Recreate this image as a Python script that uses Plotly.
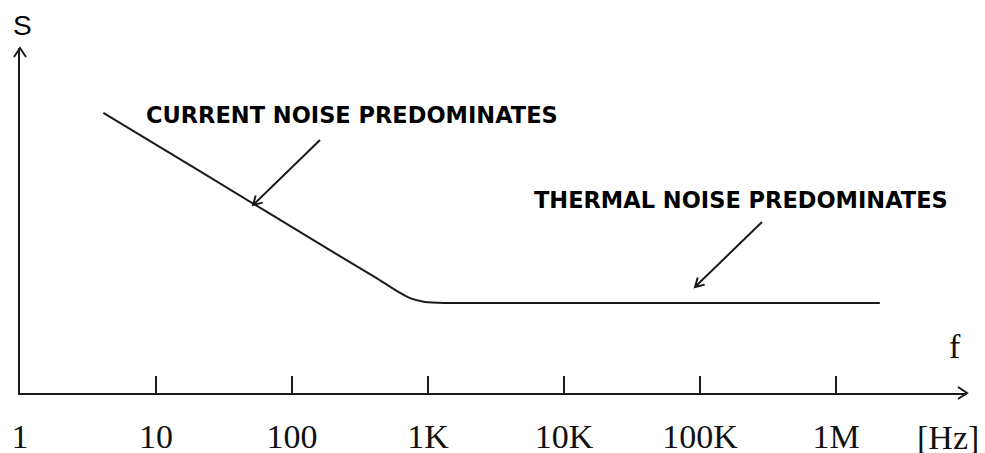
import plotly.graph_objects as go

# ---- data ----
freq_hz = [4.1, 21, 190, 407, 572, 738, 950, 1334, 2100000]
noise_s = [8.12, 6.43, 4.14, 3.36, 2.99, 2.75, 2.64, 2.61, 2.61]

tick_vals = [1, 10, 100, 1000, 10000, 100000, 1000000]
tick_text = ["1", "10", "100", "1K", "10K", "100K", "1M"]

label_current = "CURRENT NOISE PREDOMINATES"
label_thermal = "THERMAL NOISE PREDOMINATES"

# page body has an 8px margin: figure origin sits at page (8, 8)
OFF = 8
W, H = 985 - OFF, 453 - OFF
L, T = 20 - OFF, 48 - OFF
R = W - (967 - OFF)
B = H - (393 - OFF)
pw, ph = W - L - R, H - T - B
x_span = pw / 136.0
y_span = ph / 34.5

fig = go.Figure()
fig.add_trace(go.Scatter(
    x=freq_hz, y=noise_s, mode="lines",
    line=dict(color="#1a1a1a", width=2, shape="spline", smoothing=0.6),
    hoverinfo="skip", showlegend=False,
))

def px2dom(px, py):
    # px, py are page pixels from the reference
    return (px - OFF - L) / pw, (H - B - (py - OFF)) / ph

shapes = []
def pix_path(anchor_px, path):
    xa, ya = px2dom(*anchor_px)
    shapes.append(dict(type="path", xref="x domain", yref="y domain",
                       xsizemode="pixel", ysizemode="pixel",
                       xanchor=xa, yanchor=ya, path=path,
                       line=dict(color="#1a1a1a", width=2)))

# axis arrowheads (open chevrons)
pix_path((967, 393), "M -9,6 L 0,0 L -9,-6")
pix_path((20, 48), "M -6,-9 L 0,0 L 6,-9")
# annotation arrows
pix_path((253, 205), "M 67,65 L 0,0 M 2.7,9.6 L 0,0 L 9.7,2.4")
pix_path((695, 287), "M 67,65 L 0,0 M 2.7,9.6 L 0,0 L 9.7,2.4")

bold = dict(family="DejaVu Sans", size=22.5, color="#000000")
serif = dict(family="Liberation Serif", size=34, color="#111111")

def txt(text, px, py, font):
    x, y = px2dom(px, py)
    return dict(text=text, xref="paper", yref="paper", x=x, y=y,
                showarrow=False, font=font, xanchor="center", yanchor="middle")

annotations = [
    txt("<b>" + label_current + "</b>", 352, 115, bold),
    txt("<b>" + label_thermal + "</b>", 741, 200, bold),
    txt("S", 22, 25, dict(family="Liberation Sans", size=28, color="#000000")),
    txt("f", 955, 346, dict(family="Liberation Serif", size=34, color="#111111")),
    txt("[Hz]", 948, 437, serif),
]

fig.update_layout(
    width=W, height=H,
    margin=dict(l=L, r=R, t=T, b=B, pad=0, autoexpand=False),
    paper_bgcolor="white", plot_bgcolor="white",
    shapes=shapes, annotations=annotations,
    xaxis=dict(type="log", range=[0, x_span], showgrid=False, zeroline=False,
               showline=True, linecolor="#1a1a1a", linewidth=2,
               ticks="inside", ticklen=17, tickwidth=2, tickcolor="#1a1a1a",
               tickvals=tick_vals, ticktext=tick_text, tickfont=serif,
               ticklabelstandoff=12, automargin=False, fixedrange=True),
    yaxis=dict(range=[0, y_span], showgrid=False, zeroline=False,
               showline=True, linecolor="#1a1a1a", linewidth=2,
               showticklabels=False, ticks="", automargin=False,
               fixedrange=True),
)

fig.write_html("out.html")
